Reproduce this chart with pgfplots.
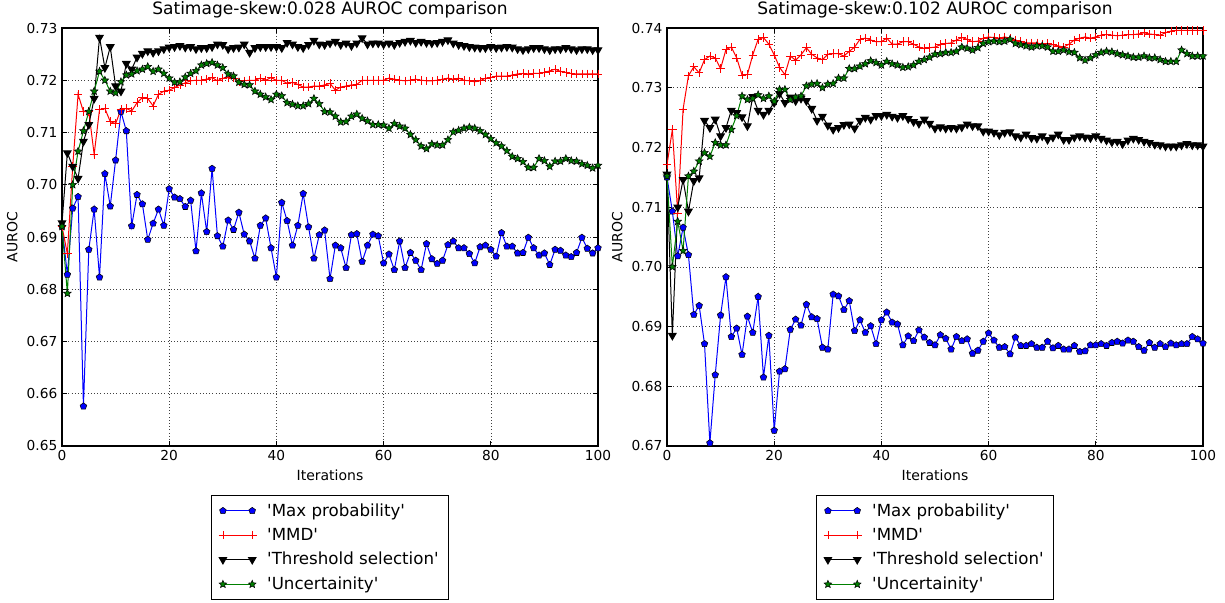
\documentclass[border=0pt]{standalone}
\usepackage{fontspec}
\setmainfont{DejaVu Sans}[Ligatures=TeXOff]
\usepackage{pgfplots}
\usepackage{pgfplotstable}
\pgfplotsset{compat=1.18}
\usetikzlibrary{plotmarks}

\pgfdeclareplotmark{fstar}{%
\pgfpathmoveto{\pgfpointpolar{90}{\pgfplotmarksize}}%
\pgfpathlineto{\pgfpointpolar{126}{0.45\pgfplotmarksize}}%
\pgfpathlineto{\pgfpointpolar{162}{\pgfplotmarksize}}%
\pgfpathlineto{\pgfpointpolar{198}{0.45\pgfplotmarksize}}%
\pgfpathlineto{\pgfpointpolar{234}{\pgfplotmarksize}}%
\pgfpathlineto{\pgfpointpolar{270}{0.45\pgfplotmarksize}}%
\pgfpathlineto{\pgfpointpolar{306}{\pgfplotmarksize}}%
\pgfpathlineto{\pgfpointpolar{342}{0.45\pgfplotmarksize}}%
\pgfpathlineto{\pgfpointpolar{18}{\pgfplotmarksize}}%
\pgfpathlineto{\pgfpointpolar{54}{0.45\pgfplotmarksize}}%
\pgfpathclose
\pgfusepathqfillstroke}

\pgfplotstableread{
i blue red black green
0 0.6920 0.6920 0.6927 0.6920
1 0.6828 0.6868 0.7061 0.6792
2 0.6955 0.7035 0.7035 0.7000
3 0.6977 0.7173 0.7012 0.7064
4 0.6576 0.7140 0.7083 0.7103
5 0.6876 0.7140 0.7115 0.7140
6 0.6953 0.7058 0.7165 0.7179
7 0.6823 0.7144 0.7282 0.7217
8 0.7021 0.7146 0.7224 0.7200
9 0.6959 0.7121 0.7264 0.7179
10 0.7047 0.7117 0.7189 0.7176
11 0.7140 0.7144 0.7179 0.7197
12 0.7103 0.7146 0.7232 0.7210
13 0.6921 0.7141 0.7221 0.7212
14 0.6981 0.7157 0.7244 0.7218
15 0.6963 0.7167 0.7251 0.7221
16 0.6895 0.7165 0.7256 0.7226
17 0.6926 0.7151 0.7253 0.7217
18 0.6953 0.7173 0.7256 0.7221
19 0.6922 0.7179 0.7260 0.7213
20 0.6992 0.7181 0.7263 0.7204
21 0.6976 0.7186 0.7264 0.7196
22 0.6973 0.7191 0.7266 0.7197
23 0.6958 0.7195 0.7263 0.7206
24 0.6970 0.7199 0.7264 0.7213
25 0.6873 0.7200 0.7260 0.7218
26 0.6984 0.7200 0.7262 0.7229
27 0.6910 0.7202 0.7262 0.7232
28 0.7031 0.7205 0.7264 0.7234
29 0.6902 0.7199 0.7269 0.7229
30 0.6882 0.7204 0.7268 0.7224
31 0.6932 0.7205 0.7260 0.7212
32 0.6914 0.7204 0.7262 0.7208
33 0.6947 0.7197 0.7263 0.7196
34 0.6905 0.7199 0.7269 0.7192
35 0.6892 0.7200 0.7253 0.7191
36 0.6859 0.7200 0.7262 0.7179
37 0.6922 0.7204 0.7264 0.7173
38 0.6936 0.7200 0.7264 0.7168
39 0.6879 0.7205 0.7264 0.7163
40 0.6823 0.7200 0.7264 0.7173
41 0.6966 0.7200 0.7262 0.7170
42 0.6931 0.7194 0.7272 0.7157
43 0.6884 0.7196 0.7269 0.7154
44 0.6922 0.7192 0.7264 0.7151
45 0.6983 0.7187 0.7262 0.7151
46 0.6919 0.7187 0.7268 0.7155
47 0.6859 0.7189 0.7276 0.7165
48 0.6904 0.7189 0.7269 0.7155
49 0.6913 0.7191 0.7268 0.7140
50 0.6820 0.7194 0.7271 0.7139
51 0.6884 0.7181 0.7274 0.7131
52 0.6879 0.7187 0.7268 0.7120
53 0.6841 0.7189 0.7271 0.7121
54 0.6904 0.7191 0.7266 0.7131
55 0.6906 0.7192 0.7271 0.7135
56 0.6853 0.7200 0.7281 0.7127
57 0.6884 0.7200 0.7269 0.7122
58 0.6905 0.7200 0.7271 0.7115
59 0.6902 0.7200 0.7271 0.7115
60 0.6850 0.7200 0.7269 0.7114
61 0.6867 0.7204 0.7271 0.7108
62 0.6837 0.7202 0.7268 0.7117
63 0.6892 0.7200 0.7272 0.7112
64 0.6841 0.7199 0.7274 0.7108
65 0.6870 0.7200 0.7276 0.7096
66 0.6855 0.7202 0.7272 0.7086
67 0.6837 0.7200 0.7274 0.7074
68 0.6887 0.7199 0.7272 0.7069
69 0.6858 0.7199 0.7271 0.7078
70 0.6849 0.7200 0.7272 0.7076
71 0.6855 0.7202 0.7274 0.7076
72 0.6885 0.7204 0.7277 0.7086
73 0.6892 0.7202 0.7271 0.7101
74 0.6879 0.7204 0.7268 0.7104
75 0.6879 0.7200 0.7266 0.7108
76 0.6868 0.7199 0.7264 0.7110
77 0.6850 0.7197 0.7263 0.7108
78 0.6881 0.7199 0.7262 0.7103
79 0.6884 0.7204 0.7262 0.7096
80 0.6876 0.7205 0.7264 0.7088
81 0.6863 0.7208 0.7262 0.7080
82 0.6908 0.7208 0.7263 0.7074
83 0.6882 0.7208 0.7264 0.7065
84 0.6882 0.7210 0.7263 0.7054
85 0.6869 0.7212 0.7260 0.7050
86 0.6870 0.7213 0.7258 0.7044
87 0.6899 0.7212 0.7260 0.7033
88 0.6879 0.7213 0.7262 0.7033
89 0.6865 0.7213 0.7262 0.7050
90 0.6869 0.7215 0.7260 0.7046
91 0.6847 0.7218 0.7258 0.7035
92 0.6876 0.7221 0.7260 0.7045
93 0.6874 0.7217 0.7260 0.7045
94 0.6865 0.7215 0.7262 0.7050
95 0.6862 0.7213 0.7260 0.7046
96 0.6870 0.7212 0.7258 0.7045
97 0.6899 0.7212 0.7260 0.7040
98 0.6878 0.7212 0.7260 0.7037
99 0.6869 0.7212 0.7258 0.7032
100 0.6879 0.7212 0.7258 0.7037
}\leftdata

\pgfplotstableread{
i blue red black green
0 0.7150 0.7171 0.7155 0.7152
1 0.7093 0.7230 0.6885 0.7000
2 0.7018 0.7090 0.7100 0.7076
3 0.7066 0.7264 0.7146 0.7027
4 0.7020 0.7320 0.7093 0.7152
5 0.6920 0.7335 0.7144 0.7160
6 0.6935 0.7325 0.7149 0.7177
7 0.6871 0.7347 0.7245 0.7191
8 0.6705 0.7353 0.7233 0.7185
9 0.6819 0.7350 0.7247 0.7208
10 0.6919 0.7332 0.7219 0.7204
11 0.6983 0.7364 0.7233 0.7204
12 0.6883 0.7368 0.7262 0.7230
13 0.6897 0.7350 0.7258 0.7253
14 0.6853 0.7321 0.7251 0.7286
15 0.6917 0.7322 0.7236 0.7280
16 0.6890 0.7355 0.7285 0.7282
17 0.6950 0.7381 0.7262 0.7288
18 0.6815 0.7384 0.7255 0.7282
19 0.6885 0.7373 0.7262 0.7286
20 0.6726 0.7355 0.7275 0.7277
21 0.6825 0.7334 0.7290 0.7297
22 0.6829 0.7322 0.7275 0.7297
23 0.6895 0.7353 0.7284 0.7280
24 0.6912 0.7346 0.7278 0.7284
25 0.6902 0.7355 0.7282 0.7286
26 0.6937 0.7367 0.7278 0.7303
27 0.6916 0.7356 0.7265 0.7306
28 0.6913 0.7350 0.7245 0.7307
29 0.6865 0.7347 0.7252 0.7300
30 0.6862 0.7356 0.7237 0.7306
31 0.6954 0.7357 0.7230 0.7307
32 0.6951 0.7357 0.7233 0.7316
33 0.6928 0.7353 0.7238 0.7316
34 0.6943 0.7361 0.7239 0.7332
35 0.6893 0.7368 0.7232 0.7332
36 0.6911 0.7381 0.7245 0.7336
37 0.6890 0.7383 0.7250 0.7340
38 0.6901 0.7380 0.7247 0.7345
39 0.6871 0.7377 0.7253 0.7342
40 0.6911 0.7377 0.7253 0.7338
41 0.6924 0.7383 0.7255 0.7344
42 0.6907 0.7373 0.7252 0.7340
43 0.6904 0.7373 0.7250 0.7338
44 0.6869 0.7377 0.7253 0.7334
45 0.6884 0.7377 0.7248 0.7335
46 0.6876 0.7373 0.7243 0.7338
47 0.6894 0.7368 0.7240 0.7344
48 0.6882 0.7366 0.7247 0.7347
49 0.6873 0.7367 0.7240 0.7351
50 0.6869 0.7368 0.7232 0.7356
51 0.6886 0.7372 0.7234 0.7357
52 0.6880 0.7374 0.7232 0.7359
53 0.6862 0.7375 0.7233 0.7359
54 0.6883 0.7380 0.7232 0.7361
55 0.6876 0.7384 0.7234 0.7368
56 0.6879 0.7381 0.7239 0.7366
57 0.6855 0.7377 0.7236 0.7363
58 0.6860 0.7378 0.7236 0.7367
59 0.6875 0.7383 0.7227 0.7374
60 0.6889 0.7385 0.7227 0.7377
61 0.6877 0.7384 0.7225 0.7378
62 0.6865 0.7383 0.7221 0.7377
63 0.6866 0.7385 0.7225 0.7378
64 0.6854 0.7383 0.7226 0.7381
65 0.6882 0.7380 0.7219 0.7374
66 0.6868 0.7377 0.7217 0.7372
67 0.6868 0.7375 0.7222 0.7370
68 0.6871 0.7375 0.7216 0.7368
69 0.6865 0.7375 0.7215 0.7370
70 0.6865 0.7373 0.7219 0.7370
71 0.6875 0.7374 0.7213 0.7368
72 0.6864 0.7372 0.7217 0.7361
73 0.6868 0.7370 0.7222 0.7361
74 0.6862 0.7368 0.7213 0.7363
75 0.6862 0.7373 0.7213 0.7360
76 0.6868 0.7380 0.7217 0.7359
77 0.6858 0.7383 0.7219 0.7350
78 0.6859 0.7385 0.7217 0.7346
79 0.6869 0.7383 0.7216 0.7350
80 0.6869 0.7385 0.7219 0.7355
81 0.6871 0.7388 0.7215 0.7359
82 0.6868 0.7389 0.7212 0.7361
83 0.6873 0.7388 0.7209 0.7360
84 0.6875 0.7387 0.7210 0.7357
85 0.6872 0.7388 0.7206 0.7355
86 0.6877 0.7389 0.7212 0.7353
87 0.6875 0.7389 0.7215 0.7351
88 0.6866 0.7390 0.7213 0.7351
89 0.6860 0.7392 0.7210 0.7353
90 0.6873 0.7390 0.7208 0.7350
91 0.6865 0.7389 0.7205 0.7350
92 0.6871 0.7388 0.7204 0.7347
93 0.6866 0.7392 0.7202 0.7344
94 0.6872 0.7395 0.7202 0.7344
95 0.6869 0.7396 0.7202 0.7344
96 0.6871 0.7396 0.7204 0.7363
97 0.6871 0.7396 0.7206 0.7357
98 0.6883 0.7396 0.7204 0.7353
99 0.6879 0.7396 0.7204 0.7353
100 0.6872 0.7396 0.7202 0.7353
}\rightdata

\definecolor{mgreen}{rgb}{0,0.5,0}

\pgfplotsset{
 myaxis/.style={
  scale only axis, width=402pt, height=313.5pt,
  xmin=0, xmax=100, xtick={0,20,...,100},
  grid=major, major grid style={black!75, dotted, line width=0.45pt},
  axis line style={line width=0.8pt},
  tick style={black, line width=0.5pt}, major tick length=3.5pt,
  tick label style={font=\fontsize{10.3}{12}\selectfont},
  /pgf/number format/assume math mode=true,
  yticklabel style={/pgf/number format/fixed, /pgf/number format/fixed zerofill, /pgf/number format/precision=2},
  xlabel={Iterations}, ylabel={AUROC},
  label style={font=\fontsize{10.5}{12}\selectfont},
  title style={font=\fontsize{12.8}{15}\selectfont, at={(0.5,1)}, anchor=base, yshift=4pt},
  legend style={at={(0.5,-0.1172)}, anchor=north, font=\fontsize{12.5}{15}\selectfont,
    draw=black, line width=0.75pt, row sep=3.5pt, inner xsep=5pt, inner ysep=4pt,
    /tikz/every odd column/.append style={column sep=6pt}},
  legend cell align=left,
  legend image code/.code={\draw[mark repeat=2,mark phase=1] plot coordinates {(0pt,0pt) (11pt,0pt) (22pt,0pt)};},
  every axis plot/.append style={line width=0.75pt},
 },
 sblue/.style={color=blue, mark=pentagon*, mark size=2.6pt, mark options={fill=blue, draw=black, line width=0.4pt}},
 sred/.style={color=red, mark=+, mark size=3.2pt, mark options={line width=0.5pt}},
 sblack/.style={color=black, mark=triangle*, mark size=3.2pt, mark options={rotate=180, fill=black}},
 sgreen/.style={color=mgreen, mark=fstar, mark size=3pt, mark options={fill=mgreen, draw=black, line width=0.4pt}},
}

\begin{document}
\begin{tikzpicture}
\useasboundingbox (-46.5pt,-117.75pt) rectangle (872.25pt,334.5pt);
\begin{axis}[myaxis, ymin=0.65, ymax=0.73, ytick={0.65,0.66,...,0.731},
  title={Satimage-skew:0.028 AUROC comparison}]
\addplot[sblue] table[x=i,y=blue]{\leftdata};
\addlegendentry{'Max probability'}
\addplot[sred] table[x=i,y=red]{\leftdata};
\addlegendentry{'MMD'}
\addplot[sblack] table[x=i,y=black]{\leftdata};
\addlegendentry{'Threshold selection'}
\addplot[sgreen] table[x=i,y=green]{\leftdata};
\addlegendentry{'Uncertainity'}
\end{axis}
\begin{axis}[myaxis, at={(453.75pt,0pt)}, anchor=south west, ymin=0.67, ymax=0.74, ytick={0.67,0.68,...,0.741},
  title={Satimage-skew:0.102 AUROC comparison}]
\addplot[sblue] table[x=i,y=blue]{\rightdata};
\addlegendentry{'Max probability'}
\addplot[sred] table[x=i,y=red]{\rightdata};
\addlegendentry{'MMD'}
\addplot[sblack] table[x=i,y=black]{\rightdata};
\addlegendentry{'Threshold selection'}
\addplot[sgreen] table[x=i,y=green]{\rightdata};
\addlegendentry{'Uncertainity'}
\end{axis}
\end{tikzpicture}
\end{document}
